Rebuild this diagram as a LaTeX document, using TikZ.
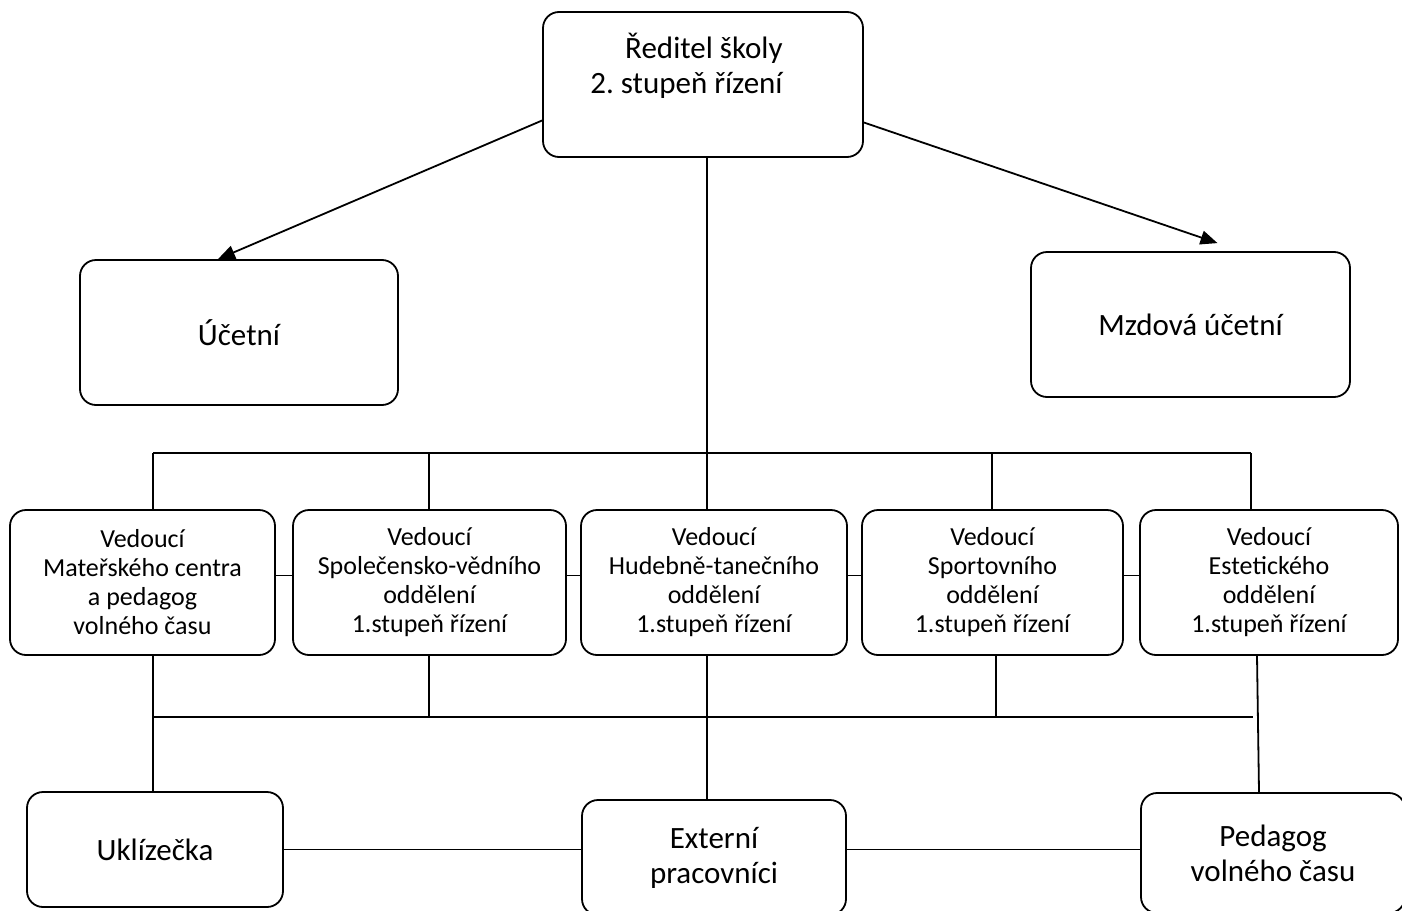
\documentclass[tikz,border=0pt]{standalone}
\usepackage{fontspec}
\setmainfont{Carlito}
\frenchspacing
\usetikzlibrary{arrows.meta,calc,positioning}
\tikzset{
	box/.style ={draw, rounded corners=8pt, line width=0.9pt, align=center, inner sep=0pt},
	big/.style ={font=\fontsize{15.5}{17.5}\selectfont},
	small/.style ={font=\fontsize{13}{14.5}\selectfont},
	link/.style ={line width=0.9pt},
	arr/.style ={line width=0.9pt, -{Triangle[length=8.5pt,width=7pt]}}
}

\begin{document}
\begin{tikzpicture}[x=0.5pt,y=-0.5pt]

    \useasboundingbox (0,0) rectangle (1402,910);
    \clip (0,0) rectangle (1402,910);

    \node[box, minimum width=160pt, minimum height=72.5pt] (dir) at (703,84.5) {};
    \node[big, align=right, anchor=north east, inner sep=0pt] (dirtext) at (783,33) {Ředitel školy\\2. stupeň řízení};

    \node[box, big, minimum width=159pt, minimum height=72.5pt] (acct) at (239,332.5) {Účetní};
    \node[box, big, minimum width=159.5pt, minimum height=72.5pt] (mzd) at (1190.5,324.5) {Mzdová účetní};

    \draw[arr] ($(dir.west)+(0,36)$) -- ($(acct.north)+(-21,0)$);
    \draw[arr] ($(dir.east)+(0,38)$) -- ($(mzd.north)+(27,-8)$);

    \node[box, small, minimum width=132.5pt, minimum height=72.5pt] (m1) at (142.5,582.5) {Vedoucí\\Mateřského centra\\a pedagog\\volného času};
    \node[box, small, minimum width=136.5pt, minimum height=72.5pt] (m2) at (429.5,582.5) {Vedoucí\\Společensko-vědního\\oddělení\\1.stupeň řízení};
    \node[box, small, minimum width=133pt, minimum height=72.5pt] (m3) at (714,582.5) {Vedoucí\\Hudebně-tanečního\\oddělení\\1.stupeň řízení};
    \node[box, small, minimum width=130.5pt, minimum height=72.5pt] (m4) at (992.5,582.5) {Vedoucí\\Sportovního\\oddělení\\1.stupeň řízení};
    \node[box, small, minimum width=129pt, minimum height=72.5pt] (m5) at (1269,582.5) {Vedoucí\\Estetického\\oddělení\\1.stupeň řízení};

    \node[box, big, minimum width=128pt, minimum height=57.5pt] (ukl) at (155,849.5) {Uklízečka};
    \node[box, big, minimum width=132pt, minimum height=57.5pt] (ext) at (714,857.5) {Externí\\pracovníci};
    \node[box, big, minimum width=132pt, minimum height=60pt] (ped) at (1273,853) {Pedagog\\volného času};

    \coordinate (t1) at (153,453);
    \coordinate (t2) at (429,453);
    \coordinate (t3) at (707,453);
    \coordinate (t4) at (992,453);
    \coordinate (t5) at (1251,453);

    \draw[link] (t1) -- (t5);
    \draw[link] (dir.south -| t3) -- (t3);
    \foreach \i in {1,...,5}
        \draw[link] (t\i) -- (t\i |- m\i.north);

    \foreach \a/\b in {m1/m2,m2/m3,m3/m4,m4/m5}
        \draw[link] ($(\a.east)+(0,-7)$) -- ($(\b.west)+(0,-7)$);

    \coordinate (b1) at (153,717);
    \coordinate (b2) at (429,717);
    \coordinate (b3) at (707,717);
    \coordinate (b4) at (996,717);
    \coordinate (b5) at (1253,717);

    \draw[link] (b1) -- (b5);
    \draw[link] (m1.south -| b1) -- (ukl.north -| b1);
    \draw[link] (m2.south -| b2) -- (b2);
    \draw[link] (m3.south -| b3) -- (ext.north -| b3);
    \draw[link] (m4.south -| b4) -- (b4);
    \draw[link] ($(m5.south)+(-12,0)$) -- ($(ped.north)+(-14,0)$);

    \draw[link] (ukl.east) -- (ukl.east -| ext.west);
    \draw[link] (ext.east |- ukl.east) -- (ped.west |- ukl.east);

\end{tikzpicture}
\end{document}
